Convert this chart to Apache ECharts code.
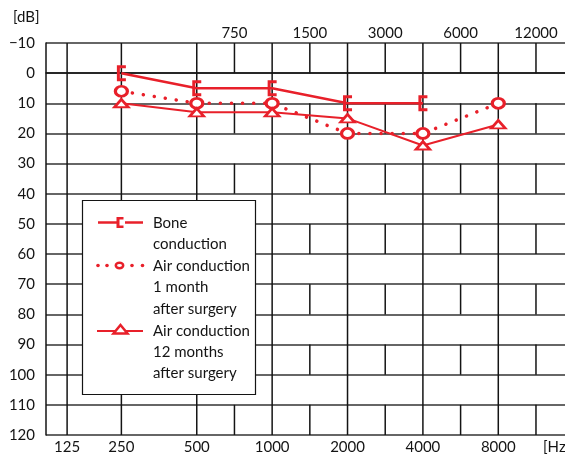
<!DOCTYPE html>
<html>
<head>
    <meta charset="utf-8">
    <title>Audiogram</title>
    <script src="https://cdn.jsdelivr.net/npm/echarts@6.0.0/dist/echarts.min.js"></script>
    <style>
        html, body { margin: 0; padding: 0; background: #fff; }
        #chart { width: 565px; height: 456px; }
    </style>
</head>
<body>
<div id="chart"></div>

<script>
    // tested frequencies and their place on the x axis (half-octave steps)
    const freqLabels = ['250', '500', '1000', '2000', '4000', '8000'];
    const freqX = [2, 4, 6, 8, 10, 12];

    // hearing levels in dB
    const boneCond = [0, 5, 5, 10, 10, null];
    const air1Month = [6, 10, 10, 20, 20, 10];
    const air12Months = [10, 13, 13, 15, 24, 17];

    // tick labels
    const bottomTickLabels = ['125', '250', '500', '1000', '2000', '4000', '8000'];
    const bottomTickX = [0.56, 2, 4, 6, 8, 10, 12];
    const topTickLabels = ['750', '1500', '3000', '6000', '12000'];
    const topTickX = [5, 7, 9, 11, 13];
    const brickRows = [-10, 10, 30, 50, 70, 90, 110]; // rows where the half-octave lines show

    const RED = '#e8202a';
    const INK = '#141414';
    const FONT = 'Lato';

    function pairs(values) {
        const out = [];
        values.forEach((v, i) => { if (v !== null) out.push([freqX[i], v]); });
        return out;
    }

    // vertical grid lines: octaves run full height, half-octaves make a brick pattern
    const vLines = [];
    bottomTickX.forEach(x => vLines.push([x, -10, 120]));
    topTickX.forEach(x => brickRows.forEach(r => vLines.push([x, r, r + 10])));

    const chart = echarts.init(document.getElementById('chart'));

    const textStyle = { fontFamily: FONT, fontSize: 15, color: INK };

    chart.setOption({
        animation: false,
        backgroundColor: '#fff',
        grid: { left: 46, right: 0, top: 43, bottom: 21 },
        xAxis: [{
            type: 'value', min: 0, max: 13.77, position: 'bottom',
            axisLine: { show: true, lineStyle: { color: INK, width: 1.5 } },
            axisTick: { show: false },
            splitLine: { show: false },
            axisLabel: Object.assign({
                customValues: bottomTickX, margin: 5,
                formatter: v => bottomTickLabels[bottomTickX.indexOf(v)]
            }, textStyle)
        }, {
            type: 'value', min: 0, max: 13.77, position: 'top',
            axisLine: { show: false },
            axisTick: { show: false },
            splitLine: { show: false },
            axisLabel: Object.assign({
                customValues: topTickX, margin: 2,
                formatter: v => topTickLabels[topTickX.indexOf(v)]
            }, textStyle)
        }],
        yAxis: {
            type: 'value', inverse: true, min: -10, max: 120, interval: 10,
            axisLine: { show: true, lineStyle: { color: INK, width: 1.5 } },
            axisTick: { show: false },
            splitLine: { show: true, lineStyle: { color: '#333', width: 1.5 } },
            axisLabel: Object.assign({
                margin: 11,
                formatter: v => v < 0 ? '\u2212' + (-v) : String(v)
            }, textStyle)
        },
        series: [{
            type: 'custom',
            silent: true,
            z: 1,
            data: vLines,
            encode: { x: 0, y: [1, 2] },
            renderItem: function (params, api) {
                const a = api.coord([api.value(0), api.value(1)]);
                const b = api.coord([api.value(0), api.value(2)]);
                return {
                    type: 'line',
                    shape: { x1: a[0], y1: a[1], x2: b[0], y2: b[1] },
                    style: { stroke: INK, lineWidth: 1.5 }
                };
            }
        }, {
            name: 'Bone conduction',
            type: 'line',
            data: pairs(boneCond),
            symbol: 'path://M0,0H9V3H3V13H9V16H0Z',
            symbolSize: [9, 16],
            lineStyle: { color: RED, width: 2.5 },
            itemStyle: { color: RED },
            z: 3
        }, {
            name: 'Air conduction 1 month after surgery',
            type: 'line',
            data: pairs(air1Month),
            symbol: 'circle',
            symbolSize: [12, 10],
            lineStyle: { color: RED, width: 3.5, type: [0.1, 11], cap: 'round' },
            itemStyle: { color: '#fff', borderColor: RED, borderWidth: 3 },
            z: 4
        }, {
            name: 'Air conduction 12 months after surgery',
            type: 'line',
            data: pairs(air12Months),
            symbol: 'triangle',
            symbolSize: [14, 8],
            lineStyle: { color: RED, width: 2 },
            itemStyle: { color: '#fff', borderColor: RED, borderWidth: 2.5 },
            z: 5
        }],
        graphic: [
            { type: 'text', left: 13, top: 10, style: { text: '[dB]', font: '15px ' + FONT, fill: INK } },
            { type: 'text', left: 543, top: 440, style: { text: '[Hz]', font: '15px ' + FONT, fill: INK } },
            // legend box
            { type: 'rect', z: 100, shape: { x: 82.5, y: 200.5, width: 173, height: 194 },
              style: { fill: '#fff', stroke: INK, lineWidth: 1.2 } },
            // bone conduction key
            { type: 'line', z: 101, shape: { x1: 98, y1: 222.5, x2: 117, y2: 222.5 }, style: { stroke: RED, lineWidth: 2.5 } },
            { type: 'line', z: 101, shape: { x1: 125, y1: 222.5, x2: 143, y2: 222.5 }, style: { stroke: RED, lineWidth: 2.5 } },
            { type: 'polygon', z: 102, shape: { points: [[116.5, 217], [123.5, 217], [123.5, 219.5], [119.5, 219.5], [119.5, 225.5], [123.5, 225.5], [123.5, 228], [116.5, 228]] },
              style: { fill: RED } },
            { type: 'text', z: 101, x: 153, y: 212.5,
              style: { text: 'Bone\nconduction', font: '15px ' + FONT, fill: INK, lineHeight: 21.4, verticalAlign: 'top' } },
            // air conduction 1 month key
            { type: 'circle', z: 101, shape: { cx: 98, cy: 265.5, r: 1.8 }, style: { fill: RED } },
            { type: 'circle', z: 101, shape: { cx: 107, cy: 265.5, r: 1.8 }, style: { fill: RED } },
            { type: 'circle', z: 101, shape: { cx: 132, cy: 265.5, r: 1.8 }, style: { fill: RED } },
            { type: 'circle', z: 101, shape: { cx: 142.5, cy: 265.5, r: 1.8 }, style: { fill: RED } },
            { type: 'ellipse', z: 101, shape: { cx: 119.5, cy: 265.5, rx: 3.7, ry: 2.7 },
              style: { fill: '#fff', stroke: RED, lineWidth: 2.5 } },
            { type: 'text', z: 101, x: 153, y: 255.5,
              style: { text: 'Air conduction\n1 month\nafter surgery', font: '15px ' + FONT, fill: INK, lineHeight: 21.4, verticalAlign: 'top' } },
            // air conduction 12 months key
            { type: 'line', z: 101, shape: { x1: 97, y1: 331, x2: 143, y2: 331 }, style: { stroke: RED, lineWidth: 2 } },
            { type: 'polygon', z: 102, shape: { points: [[120.5, 325], [127.5, 333.5], [113.5, 333.5]] },
              style: { fill: '#fff', stroke: RED, lineWidth: 2.5 } },
            { type: 'text', z: 101, x: 153, y: 320,
              style: { text: 'Air conduction\n12 months\nafter surgery', font: '15px ' + FONT, fill: INK, lineHeight: 21.4, verticalAlign: 'top' } }
        ]
    });
</script>
</body>
</html>
